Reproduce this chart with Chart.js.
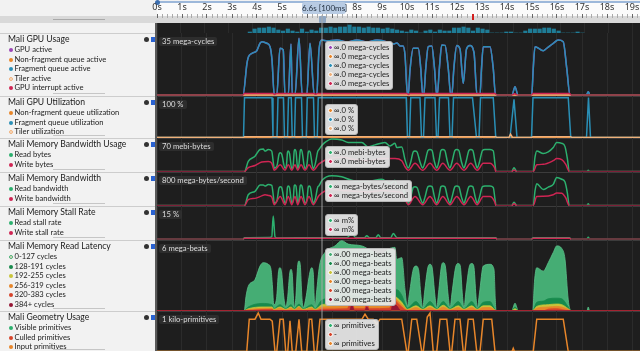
<!DOCTYPE html>
<html>
<head>
<meta charset="utf-8">
<script src="https://cdn.jsdelivr.net/npm/chart.js@4.4.0/dist/chart.umd.min.js"></script>
<style>
  html, body { margin: 0; padding: 0; width: 640px; height: 351px; overflow: hidden; background: #f0f0f0; }
  body { font-family: Lato, "Noto Sans", sans-serif; }
  #app { position: relative; width: 640px; height: 351px; }
  .abs { position: absolute; }
  canvas { position: absolute; display: block; }
  .title { font-size: 8.6px; color: #1b1b1b; white-space: nowrap; line-height: 11px; }
  .item { font-size: 7.6px; color: #222; white-space: nowrap; line-height: 9px; }
  .dot { display: inline-block; width: 4px; height: 4px; border-radius: 50%; margin-right: 1.5px; vertical-align: 0px; box-sizing: border-box; }
  .unit { padding: 0 3px; font-size: 7.7px; line-height: 9px; color: #ddd; background: rgba(48,48,48,0.85); border-radius: 2px; white-space: nowrap; }
  .tip { padding: 1px 3px 1px 2px; background: rgba(232,232,232,0.93); border: 1px solid #b8b8b8; border-radius: 3px; }
  .tip div { font-size: 7.7px; line-height: 9px; color: #222; white-space: nowrap; }
  .tip .dot { width: 5px; height: 5px; border: 1px solid #fff; margin-right: 1px; }
</style>
</head>
<body>
<div id="app"></div>
<script>
// timeline: 0s sits at x=157, 25px per second, right edge ~19.3s
const X_MAX = 19.32;
const rulerLabels = ['0s', '1s', '2s', '3s', '4s', '5s', '6s', '7s', '8s', '9s', '10s',
  '11s', '12s', '13s', '14s', '15s', '16s', '17s', '18s', '19s'];

// activity overview strip under the ruler, one bar per 0.2s from 3.4s
const overviewStart = 3.4;
const overviewStep = 0.2;
const overviewBars = [1, 4, 5, 5, 6, 5, 3, 2, 4, 2, 1, 4, 1, 3, 2, 5, 5, 6, 5, 6, 6, 8, 6, 6, 5, 6, 5, 5,
  4, 5, 4, 3, 2, 1, 3, 2, 0, 2, 3, 1, 3, 2, 2, 5, 5, 6, 5, 2, 5, 4, 3, 0, 0, 0, 1, 1, 0, 0, 2, 4, 4, 4,
  5, 5, 4, 2, 0, 0, 0, 1, 0];

// ---- Mali GPU Usage (mega-cycles), [seconds, value] ----
const fragActive = [[0, 0], [3.44, 0], [3.6, 18], [3.66, 21.6], [3.8, 23.5], [3.99, 25], [4.12, 29.2], [4.21, 30.1],
  [4.39, 29.2], [4.52, 27.3], [4.6, 19.8], [4.69, 0], [4.79, 0], [4.92, 26.4], [5.05, 25.4], [5.12, 0],
  [5.25, 0], [5.36, 28.8], [5.41, 0], [5.52, 0], [5.68, 32], [5.81, 0], [5.99, 0], [6.12, 29.2], [6.29, 0],
  [6.39, 0], [6.48, 25.4], [6.6, 31], [6.8, 30.5], [7.2, 31], [7.6, 30], [8.0, 31], [8.4, 30], [8.8, 31],
  [9.2, 30], [9.32, 29.2], [9.48, 28.8], [9.6, 29.4], [9.72, 27.7], [9.84, 27.7], [9.92, 22.6], [10.02, 0],
  [10.05, 0], [10.12, 14], [10.25, 26.4], [10.45, 26.4], [10.55, 15], [10.63, 0],
  [10.67, 0], [10.75, 15], [10.85, 27.3], [10.99, 27.7], [11.1, 15], [11.19, 0],
  [11.21, 0], [11.3, 16], [11.39, 28.2], [11.52, 28], [11.65, 15], [11.75, 0],
  [11.79, 0], [11.88, 16], [11.99, 27.9], [12.12, 26], [12.25, 6.6], [12.38, 26], [12.52, 27.9], [12.68, 24], [12.8, 0],
  [12.92, 0], [12.98, 15], [13.05, 27.3], [13.32, 27.3], [13.45, 15], [13.54, 0],
  [14.2, 0], [14.32, 4.7], [14.44, 0],
  [14.99, 0], [15.05, 15], [15.12, 27.3], [15.45, 25], [15.59, 26.4], [15.85, 29.2], [16.05, 31], [16.25, 30.1],
  [16.39, 15], [16.52, 0], [17.18, 0], [17.25, 1.9], [17.32, 0], [19.32, 0]];
const gpuActive = fragActive; // the purple trace lies exactly under the blue one
const nonFragActive = [[0, 0], [19.32, 0]];
const tilerActive = [[0, 0], [19.32, 0]];
const irqActive = [[0, 0], [3.44, 0], [3.5, 0.9], [4.64, 0.9], [4.7, 0.3], [4.8, 0.9], [6.28, 0.9], [6.34, 0.4],
  [6.42, 0.9], [10.0, 0.9], [10.06, 0.3], [10.12, 0.9], [13.52, 0.9], [13.58, 0], [14.2, 0], [14.3, 0.7],
  [14.42, 0], [14.98, 0], [15.04, 0.9], [16.5, 0.9], [16.56, 0], [19.32, 0]];

// ---- Mali GPU Utilization (%) ----
const nonFragUtil = [[0, 0], [19.32, 0]];
const fragUtil = [[0, 0], [3.46, 0], [3.5, 96], [4.6, 96], [4.64, 0], [4.8, 0], [4.84, 96], [5.06, 96], [5.1, 0],
  [5.22, 0], [5.26, 96], [5.37, 96], [5.41, 0], [5.5, 0], [5.54, 96], [5.78, 96], [5.82, 0], [5.97, 0], [6.01, 96],
  [6.26, 96], [6.3, 0], [6.41, 0], [6.45, 96], [9.97, 96], [10.02, 0], [10.1, 0], [10.15, 96], [10.52, 96],
  [10.58, 0], [10.66, 0], [10.72, 96], [11.12, 96], [11.18, 0], [11.24, 0], [11.3, 96], [11.66, 96], [11.72, 0],
  [11.8, 0], [11.86, 96], [12.62, 96], [12.78, 0], [12.88, 0], [12.94, 96], [13.45, 96], [13.55, 0], [14.12, 0],
  [14.28, 92], [14.4, 0], [14.98, 0], [15.04, 96], [16.45, 96], [16.55, 0], [17.18, 0], [17.26, 96], [17.34, 0], [19.32, 0]];
const tilerUtil = [[0, 0], [3.46, 0], [3.5, 2], [13.55, 2], [13.6, 0], [14.08, 0], [14.14, 8], [14.22, 0],
  [14.98, 0], [15.04, 2], [16.55, 2], [16.6, 0], [19.32, 0]];

// ---- Mali Memory Bandwidth Usage (mebi-bytes) ----
const readBytes = [[0, 0], [3.5, 0], [3.65, 21], [3.92, 32], [4.12, 46], [4.25, 47], [4.32, 42.6], [4.45, 46],
  [4.59, 42.6], [4.65, 20], [4.69, 7], [4.8, 12], [4.88, 36], [4.93, 39], [4.99, 36], [5.12, 7],
  [5.18, 14], [5.22, 40], [5.25, 43], [5.3, 38], [5.39, 5.7], [5.45, 14], [5.49, 43], [5.52, 46], [5.56, 42], [5.63, 5.7],
  [5.68, 16], [5.73, 43], [5.76, 46], [5.8, 42], [5.92, 5.7], [6.0, 16], [6.05, 40], [6.08, 43], [6.13, 40], [6.25, 5.7],
  [6.33, 16], [6.43, 42], [6.48, 46], [6.6, 55], [6.75, 62], [6.99, 67.8], [7.39, 65.7], [7.65, 60.7], [8.19, 60.7],
  [8.45, 51.3], [8.72, 55.6], [9.12, 60.7], [9.32, 53.4], [9.52, 58.9], [9.59, 50], [9.79, 51.3], [9.92, 24.8], [10.05, 7.2],
  [10.15, 20], [10.25, 41], [10.32, 43], [10.4, 41], [10.52, 20], [10.63, 7.2],
  [10.72, 20], [10.84, 44], [10.92, 46], [11.0, 44], [11.1, 20], [11.19, 7.2],
  [11.27, 20], [11.36, 44], [11.43, 46], [11.51, 44], [11.62, 20], [11.72, 7.2],
  [11.8, 20], [11.92, 44], [11.99, 46], [12.07, 44], [12.18, 20], [12.28, 7.2],
  [12.36, 20], [12.48, 44], [12.55, 46], [12.63, 44], [12.73, 20], [12.81, 7.2],
  [12.9, 20], [13.02, 44], [13.12, 46], [13.32, 46], [13.45, 43], [13.52, 15], [13.56, 0],
  [14.19, 0], [14.28, 8], [14.39, 0], [15.05, 0], [15.12, 30], [15.19, 43], [15.45, 37.4], [15.65, 41], [15.85, 50],
  [15.99, 60.7], [16.19, 58.9], [16.32, 52], [16.42, 25], [16.49, 0], [17.2, 0], [17.25, 2.5], [17.3, 0], [19.32, 0]];
const writeBytes = [[0, 0], [3.5, 0], [3.65, 8.2], [3.92, 12.6], [4.19, 19.7], [4.45, 21], [4.59, 17.2], [4.69, 2.5],
  [4.93, 14], [5.12, 2.5], [5.25, 14], [5.39, 2.5], [5.52, 14], [5.63, 2.5], [5.76, 14], [5.92, 2.5], [6.08, 14],
  [6.25, 2.5], [6.48, 16], [6.99, 28.4], [7.39, 29.9], [7.92, 24.8], [8.45, 22.6], [8.99, 27], [9.32, 27], [9.52, 27],
  [9.79, 22.6], [9.92, 10], [10.05, 2.5], [10.32, 17], [10.63, 2.5], [10.92, 17], [11.19, 2.5], [11.43, 17], [11.72, 2.5],
  [11.99, 17], [12.28, 2.5], [12.55, 17], [12.81, 2.5], [13.05, 17], [13.32, 17], [13.5, 8], [13.56, 0],
  [14.19, 0], [14.28, 3], [14.39, 0], [15.05, 0], [15.19, 14], [15.45, 15], [15.85, 22.6], [15.99, 27], [16.19, 25],
  [16.35, 15], [16.49, 0], [19.32, 0]];

// ---- Mali Memory Bandwidth (mega-bytes/second) ----
const readBw = [[0, 0], [3.5, 0], [3.65, 258], [3.92, 340], [4.12, 487], [4.25, 490], [4.32, 463], [4.45, 500],
  [4.59, 480], [4.65, 250], [4.69, 54], [4.8, 120], [4.88, 420], [4.93, 445], [4.99, 420], [5.12, 54],
  [5.18, 140], [5.22, 440], [5.25, 463], [5.3, 430], [5.39, 54], [5.45, 140], [5.49, 470], [5.52, 487], [5.56, 460], [5.63, 54],
  [5.68, 150], [5.73, 470], [5.76, 487], [5.8, 460], [5.92, 54], [6.0, 150], [6.05, 440], [6.08, 463], [6.13, 440], [6.25, 54],
  [6.33, 150], [6.43, 440], [6.48, 470], [6.6, 600], [6.99, 709], [7.39, 684], [7.92, 585], [8.45, 585], [8.99, 627],
  [9.32, 521], [9.52, 602], [9.59, 463], [9.79, 463], [9.92, 250], [10.05, 54],
  [10.15, 200], [10.25, 430], [10.32, 445], [10.4, 430], [10.52, 200], [10.63, 54],
  [10.72, 200], [10.84, 450], [10.92, 463], [11.0, 450], [11.1, 200], [11.19, 54],
  [11.27, 200], [11.36, 450], [11.43, 463], [11.51, 450], [11.62, 200], [11.72, 54],
  [11.8, 200], [11.92, 450], [11.99, 463], [12.07, 450], [12.18, 200], [12.28, 54],
  [12.36, 200], [12.48, 450], [12.55, 463], [12.63, 450], [12.73, 200], [12.81, 54],
  [12.9, 200], [13.02, 450], [13.12, 463], [13.32, 463], [13.45, 430], [13.52, 150], [13.56, 0],
  [14.19, 0], [14.28, 80], [14.39, 0], [15.05, 0], [15.12, 350], [15.19, 521], [15.45, 381], [15.65, 440], [15.85, 504],
  [15.99, 669], [16.19, 627], [16.32, 560], [16.42, 280], [16.49, 0], [17.2, 0], [17.25, 40], [17.3, 0], [19.32, 0]];
const writeBw = [[0, 0], [3.5, 0], [3.65, 140], [3.92, 170], [4.19, 230], [4.32, 258], [4.45, 241], [4.59, 200], [4.69, 20],
  [4.93, 217], [5.12, 20], [5.25, 217], [5.39, 20], [5.52, 217], [5.63, 20], [5.76, 217], [5.92, 20], [6.08, 217],
  [6.25, 20], [6.48, 240], [6.99, 381], [7.39, 360], [7.92, 340], [8.45, 320], [8.99, 360], [9.32, 340], [9.79, 300],
  [9.92, 150], [10.05, 20], [10.32, 217], [10.63, 20], [10.92, 217], [11.19, 20], [11.43, 217], [11.72, 20],
  [11.99, 217], [12.28, 20], [12.55, 217], [12.81, 20], [13.05, 217], [13.32, 217], [13.5, 100], [13.56, 0],
  [14.19, 0], [14.28, 40], [14.39, 0], [15.05, 0], [15.19, 217], [15.45, 220], [15.85, 258], [15.99, 299], [16.19, 290],
  [16.35, 180], [16.49, 0], [19.32, 0]];

// ---- Mali Memory Stall Rate (%) ----
const readStall = [[0, 0], [3.45, 0], [3.5, 0.6], [4.5, 0.7], [4.59, 1], [4.65, 10.5], [4.72, 1], [4.8, 0.5],
  [6.4, 0.6], [7.6, 0.6], [7.79, 2.7], [7.95, 0.6], [8.3, 0.6], [8.39, 1.5], [8.5, 0.6], [8.75, 0.6], [8.85, 1.9],
  [8.95, 0.6], [9.35, 0.6], [9.45, 2.5], [9.6, 0.6], [13.55, 0.6], [13.6, 0], [14.98, 0], [15.05, 0.6], [16.5, 0.6],
  [16.56, 0], [17.2, 0], [17.25, 0.8], [17.3, 0], [19.32, 0]];
const writeStall = [[0, 0], [3.45, 0], [3.5, 0.3], [13.55, 0.3], [13.6, 0], [14.98, 0], [15.05, 0.3], [16.5, 0.3],
  [16.56, 0], [19.32, 0]];

// ---- Mali Memory Read Latency (mega-beats), top edge of each band ----
const lat0 = [[0, 0], [3.49, 0], [3.56, 1.2], [3.65, 2.05], [3.92, 2.63], [4.12, 3.78], [4.25, 4.07], [4.45, 3.93],
  [4.56, 3.5], [4.62, 2], [4.67, 0.5], [4.78, 1], [4.86, 3.3], [4.92, 3.64], [4.98, 3.3], [5.08, 1], [5.15, 0.33],
  [5.22, 1], [5.31, 3.2], [5.36, 3.5], [5.41, 3.1], [5.46, 1], [5.49, 0.25], [5.55, 1], [5.63, 3.9], [5.68, 4.21],
  [5.73, 3.9], [5.8, 1], [5.85, 0.25], [5.95, 1], [6.12, 3.3], [6.19, 3.64], [6.25, 3.2], [6.29, 1], [6.32, 0.25],
  [6.38, 1.5], [6.5, 3.8], [6.72, 4.94], [7.12, 5.5], [7.39, 5.94], [7.65, 5.65], [8.19, 5.5], [8.59, 5.07],
  [8.99, 4.79], [9.25, 5.22], [9.52, 5.37], [9.59, 4.36], [9.79, 4.5], [9.92, 1.77], [10.01, 0.33],
  [10.1, 1.5], [10.25, 3.5], [10.36, 3.78], [10.46, 3.5], [10.56, 1.2], [10.63, 0.2],
  [10.7, 1.5], [10.84, 3.7], [10.92, 3.93], [11.0, 3.7], [11.12, 1.2], [11.19, 0.2],
  [11.26, 1.5], [11.38, 3.8], [11.45, 4.07], [11.53, 3.8], [11.65, 1.2], [11.72, 0.2],
  [11.8, 1.5], [11.96, 3.8], [12.05, 4.0], [12.13, 3.8], [12.22, 1.2], [12.28, 0.2],
  [12.35, 1.5], [12.5, 3.8], [12.59, 4.0], [12.67, 3.8], [12.76, 1.2], [12.81, 0.2],
  [12.9, 1.5], [13.05, 3.78], [13.32, 3.93], [13.48, 3.5], [13.53, 1], [13.56, 0],
  [14.19, 0], [14.32, 0.62], [14.45, 0], [15.03, 0], [15.1, 2.5], [15.19, 3.64], [15.45, 3.35], [15.65, 4.07],
  [15.85, 4.94], [15.99, 5.5], [16.19, 5.28], [16.32, 4.36], [16.45, 0.9], [16.55, 0], [17.2, 0], [17.25, 0.3],
  [17.3, 0], [19.32, 0]];
const lat128 = [[0, 0], [3.49, 0], [3.65, 0.3], [4.2, 0.6], [4.6, 0.5], [4.67, 0.15], [4.92, 0.5], [5.15, 0.15],
  [5.36, 0.5], [5.49, 0.15], [5.68, 0.55], [5.85, 0.15], [6.19, 0.5], [6.32, 0.15], [6.6, 0.9], [7.2, 1.1], [7.79, 1.3],
  [8.2, 1.1], [8.6, 1.2], [9.0, 1.1], [9.45, 1.6], [9.59, 1.77], [9.79, 1.3], [9.92, 0.6], [10.01, 0.2], [10.36, 0.76],
  [10.63, 0.15], [10.92, 0.76], [11.19, 0.15], [11.45, 0.76], [11.72, 0.15], [12.05, 0.76], [12.28, 0.15],
  [12.59, 0.76], [12.81, 0.15], [13.05, 0.7], [13.32, 0.76], [13.56, 0], [14.19, 0], [14.32, 0.3], [14.45, 0],
  [15.03, 0], [15.19, 0.7], [15.45, 0.8], [15.65, 1.0], [15.99, 1.05], [16.19, 1.0], [16.45, 0.3], [16.55, 0], [19.32, 0]];
const lat192 = [[0, 0], [3.49, 0], [3.65, 0.15], [4.2, 0.3], [4.6, 0.3], [4.67, 0.1], [4.92, 0.3], [5.15, 0.1],
  [5.36, 0.3], [5.49, 0.1], [5.68, 0.35], [5.85, 0.1], [6.19, 0.3], [6.32, 0.1], [6.6, 0.5], [7.2, 0.6], [7.79, 1.0],
  [8.0, 0.6], [8.39, 0.8], [8.6, 0.6], [9.2, 0.6], [9.45, 1.3], [9.59, 1.1], [9.79, 0.7], [9.92, 0.3], [10.01, 0.1],
  [10.36, 0.4], [10.63, 0.1], [10.92, 0.4], [11.19, 0.1], [11.45, 0.45], [11.72, 0.1], [12.05, 0.4], [12.28, 0.1],
  [12.59, 0.4], [12.81, 0.1], [13.05, 0.4], [13.32, 0.4], [13.56, 0], [14.19, 0], [14.32, 0.15], [14.45, 0],
  [15.03, 0], [15.19, 0.35], [15.65, 0.5], [15.99, 0.55], [16.19, 0.5], [16.45, 0.15], [16.55, 0], [19.32, 0]];
const lat256 = [[0, 0], [3.49, 0], [3.65, 0.08], [4.2, 0.18], [4.6, 0.2], [4.67, 0.05], [4.92, 0.2], [5.15, 0.05],
  [5.36, 0.2], [5.49, 0.05], [5.68, 0.25], [5.85, 0.05], [6.19, 0.2], [6.32, 0.05], [6.6, 0.3], [7.2, 0.35],
  [7.79, 0.9], [7.9, 0.35], [8.39, 0.7], [8.5, 0.35], [9.2, 0.4], [9.45, 1.2], [9.59, 0.9], [9.79, 0.5], [9.92, 0.2],
  [10.01, 0.05], [10.36, 0.25], [10.63, 0.05], [10.92, 0.25], [11.19, 0.05], [11.45, 0.3], [11.72, 0.05],
  [12.05, 0.25], [12.28, 0.05], [12.59, 0.25], [12.81, 0.05], [13.05, 0.25], [13.32, 0.25], [13.56, 0],
  [15.03, 0], [15.19, 0.2], [15.65, 0.3], [15.99, 0.35], [16.19, 0.3], [16.45, 0.1], [16.55, 0], [19.32, 0]];
const lat320 = [[0, 0], [3.49, 0], [4.2, 0.08], [4.6, 0.1], [4.67, 0], [6.4, 0], [6.6, 0.12], [7.6, 0.15], [7.79, 0.8],
  [7.9, 0.15], [8.3, 0.15], [8.39, 0.55], [8.5, 0.15], [9.3, 0.2], [9.45, 1.0], [9.59, 0.7], [9.79, 0.3], [10.01, 0],
  [15.5, 0], [15.65, 0.12], [15.99, 0.15], [16.45, 0], [19.32, 0]];
const lat384 = [[0, 0], [7.7, 0], [7.79, 0.45], [7.9, 0], [8.3, 0], [8.39, 0.3], [8.5, 0], [9.35, 0], [9.45, 0.6],
  [9.59, 0.4], [9.75, 0], [19.32, 0]];

// ---- Mali Geometry Usage (primitives) ----
const visiblePrims = [[0, 0], [19.32, 0]];
const culledPrims = [[0, 0], [19.32, 0]];
const inputPrims = [[0, 0], [3.59, 0], [3.69, 797], [3.92, 797], [4.05, 949], [4.16, 797], [4.52, 797], [4.61, 750],
  [4.72, 0], [4.79, 0], [4.92, 797], [5.05, 797], [5.15, 0], [5.23, 0], [5.32, 760], [5.41, 0], [5.55, 0], [5.68, 797],
  [5.79, 0], [5.99, 0], [6.09, 797], [6.19, 797], [6.29, 0], [6.39, 0], [6.52, 797], [8.2, 797], [8.32, 924],
  [8.45, 797], [8.65, 797], [8.79, 671], [8.92, 797], [9.79, 797], [9.99, 0], [10.05, 0], [10.19, 797], [10.39, 797],
  [10.59, 0], [10.65, 0], [10.81, 850], [10.92, 949], [11.05, 0], [11.19, 0], [11.32, 797], [11.59, 797], [11.72, 0],
  [11.79, 0], [11.92, 797], [12.12, 797], [12.25, 0], [12.32, 0], [12.45, 797], [12.65, 797], [12.79, 0],
  [12.92, 0], [13.05, 797], [13.39, 797], [13.52, 0], [14.2, 0], [14.25, 80], [14.3, 0], [15.05, 0], [15.19, 797],
  [16.25, 797], [16.45, 0], [19.32, 0]];

const C = {
  purple: '#9b45b6', orange: '#e8862a', teal: '#2a8fb6', tan: '#f0b07a', crimson: '#cf2553', green: '#2cb06e',
  lat0: '#45ad74', lat128: '#178a4c', lat192: '#c8c43a', lat256: '#e6862a', lat320: '#d6442a', lat384: '#951634',
};
const IDLE_RED = '#7c2038'; // red traces look darker where they sit on zero

// layout of the seven tracks: top edge, height, baseline offset
const tracks = [
  { title: 'Mali GPU Usage', top: 33, h: 63, base: 62, max: 35, unit: '35 mega-cycles',
    series: [['GPU active', C.purple, gpuActive], ['Non-fragment queue active', C.orange, nonFragActive],
      ['Fragment queue active', C.teal, fragActive], ['Tiler active', C.tan, tilerActive],
      ['GPU interrupt active', C.crimson, irqActive]],
    tip: ['∞.0 mega-cycles', '∞.0 mega-cycles', '∞.0 mega-cycles', '∞.0 mega-cycles', '∞.0 mega-cycles'] },
  { title: 'Mali GPU Utilization', top: 96, h: 42, base: 41.5, max: 100, unit: '100 %', straight: true,
    series: [['Non-fragment queue utilization', C.orange, nonFragUtil], ['Fragment queue utilization', C.teal, fragUtil],
      ['Tiler utilization', C.tan, tilerUtil]],
    tip: ['∞.0 %', '∞.0 %', '∞.0 %'] },
  { title: 'Mali Memory Bandwidth Usage', top: 138, h: 34, base: 33.5, max: 70, unit: '70 mebi-bytes',
    series: [['Read bytes', C.green, readBytes], ['Write bytes', C.crimson, writeBytes]],
    tip: ['∞.0 mebi-bytes', '∞.0 mebi-bytes'] },
  { title: 'Mali Memory Bandwidth', top: 172, h: 34, base: 33.5, max: 800, unit: '800 mega-bytes/second',
    series: [['Read bandwidth', C.green, readBw], ['Write bandwidth', C.crimson, writeBw]],
    tip: ['∞ mega-bytes/second', '∞ mega-bytes/second'] },
  { title: 'Mali Memory Stall Rate', top: 206, h: 34, base: 33, max: 15, unit: '15 %',
    series: [['Read stall rate', C.green, readStall], ['Write stall rate', C.crimson, writeStall]],
    tip: ['∞ m%', '∞ m%'] },
  { title: 'Mali Memory Read Latency', top: 240, h: 71, base: 70.5, max: 6, unit: '6 mega-beats', area: true,
    series: [['0-127 cycles', C.lat0, lat0], ['128-191 cycles', C.lat128, lat128], ['192-255 cycles', C.lat192, lat192],
      ['256-319 cycles', C.lat256, lat256], ['320-383 cycles', C.lat320, lat320], ['384+ cycles', C.lat384, lat384]],
    tip: ['∞.00 mega-beats', '∞.00 mega-beats', '∞.00 mega-beats', '∞.00 mega-beats', '∞.00 mega-beats', '∞.00 mega-beats'] },
  { title: 'Mali Geometry Usage', top: 311, h: 41, base: 40.5, max: 1000, unit: '1 kilo-primitives', straight: true,
    series: [['Visible primitives', C.green, visiblePrims], ['Culled primitives', C.lat320, culledPrims],
      ['Input primitives', C.orange, inputPrims]],
    tip: ['∞ primitives', '-', '∞ primitives'] },
];

Chart.defaults.animation = false;
Chart.defaults.events = [];
Chart.defaults.plugins.legend.display = false;
Chart.defaults.plugins.tooltip.enabled = false;
Chart.defaults.font.family = 'Lato, "Noto Sans", sans-serif';

const app = document.getElementById('app');
const pts = (a) => a.map(([x, y]) => ({ x, y }));

function box(css, html, cls) {
  const d = document.createElement('div');
  d.className = 'abs' + (cls ? ' ' + cls : '');
  d.style.cssText = css;
  if (html) d.innerHTML = html;
  app.appendChild(d);
  return d;
}
function canvasAt(left, top, w, h) {
  const c = document.createElement('canvas');
  c.width = w; c.height = h;
  c.style.left = left + 'px'; c.style.top = top + 'px';
  app.appendChild(c);
  return c;
}
const timeAxis = (gridColor) => ({
  type: 'linear', min: 0, max: X_MAX,
  ticks: { display: false, stepSize: 1, includeBounds: false },
  grid: { color: gridColor, drawTicks: false },
  border: { display: false },
});
const isWhole = (v) => Math.abs(v - Math.round(v)) < 1e-6;

// --- frame ---
box('left:0;top:0;width:640px;height:16px;background:#f2f2f2');
box('left:157px;top:3px;width:483px;height:13px;background:#fbfbfb');
box('left:0;top:16px;width:640px;height:7px;background:#d9d9d9');
box('left:53px;top:19px;width:52px;height:1px;background:#a9a9a9');
box('left:157px;top:1px;width:483px;height:2px;background:#9db8da');
box('left:155px;top:0px;width:5px;height:5px;border-radius:50%;background:#3d6fb0');

// --- ruler: labels on top, tick marks underneath (the empty plot area below stays transparent) ---
new Chart(canvasAt(145, 3, 495, 40), {
  type: 'line',
  data: { datasets: [] },
  options: {
    responsive: false,
    layout: { padding: { left: 12, right: 0, top: 0, bottom: 0 } },
    scales: {
      x: {
        type: 'linear', position: 'top', min: 0, max: X_MAX,
        afterFit: (s) => { s.height = 15; },
        ticks: {
          stepSize: 0.2, autoSkip: false, maxRotation: 0, includeBounds: false, padding: 1,
          color: '#333', font: { size: 9, family: '"Noto Sans", sans-serif' },
          callback: (v) => (isWhole(v) ? rulerLabels[Math.round(v)] : ''),
        },
        grid: {
          drawOnChartArea: false, drawTicks: true, tickLength: 4,
          tickColor: (ctx) => (ctx.tick && isWhole(ctx.tick.value) ? '#666' : '#aaa'),
        },
        border: { display: false },
      },
      y: { display: false },
    },
  },
});
box('left:157px;top:23px;width:483px;height:328px;background:#1e1e1e');
box('left:0;top:23px;width:155px;height:328px;background:#f2f2f2');
box('left:155px;top:23px;width:2px;height:328px;background:#5a5a5a');
box('left:302px;top:2px;width:44px;height:12px;background:#b8cbe3;border-radius:3px;font-size:8px;line-height:12px;color:#1d2a3a;text-align:center;white-space:nowrap', '6.6s [100ms]');
box('left:319px;top:16px;width:7px;height:7px;background:#8fa6c2;border-radius:1px');
box('left:472px;top:14px;width:2px;height:6px;background:#d21e1e');

// --- overview strip ---
new Chart(canvasAt(157, 23, 483, 10), {
  type: 'bar',
  data: { datasets: [{ data: overviewBars.map((v, i) => ({ x: overviewStart + i * overviewStep, y: v })),
    backgroundColor: '#1f7c96', barThickness: 3.5 }] },
  options: { responsive: false, scales: { x: timeAxis('#2a2a2a'), y: { display: false, min: 0, max: 10 } } },
});

// --- tracks ---
tracks.forEach((t) => {
  // left legend panel
  box(`left:0;top:${t.top}px;width:155px;height:1px;background:#cdcdcd`);
  box(`left:53px;top:${t.top + t.h - 3}px;width:52px;height:1px;background:#c6c6c6`);
  box(`left:8px;top:${t.top + 1}px`, '', 'title').textContent = t.title;
  box(`left:144px;top:${t.top + 4}px;width:5px;height:5px;border-radius:50%;background:#333`);
  box(`left:151px;top:${t.top + 4}px;width:4px;height:5px;background:#2a62d1`);
  t.series.forEach(([name, color], i) => {
    const hollow = color === C.tan || color === C.lat0;
    box(`left:9px;top:${t.top + 12 + i * 9.6}px`,
      `<span class="dot" style="background:${hollow ? '#f7e0c8' : color};${hollow ? 'border:1px solid ' + color : ''}"></span>${name}`,
      'item');
  });

  // chart
  const yMin = -t.max * (t.h - t.base) / t.base;
  const datasets = t.series.slice().reverse().map(([name, color, data]) => ({
    label: name, data: pts(data), borderColor: t.area && color === C.lat0 ? '#5cc48b' : color,
    borderWidth: t.area ? 0.8 : 1.5, pointRadius: 0,
    cubicInterpolationMode: t.straight ? 'default' : 'monotone', tension: 0,
    fill: t.area ? 'origin' : false, backgroundColor: color,
    segment: color === C.crimson
      ? { borderColor: (ctx) => (ctx.p0.parsed.y === 0 && ctx.p1.parsed.y === 0 ? IDLE_RED : undefined) }
      : undefined,
  }));
  new Chart(canvasAt(157, t.top, 483, t.h), {
    type: 'line',
    data: { datasets },
    options: {
      responsive: false,
      scales: { x: timeAxis('#2b2b2b'), y: { display: false, min: yMin, max: t.max } },
    },
  });
  box(`left:157px;top:${t.top + t.h - 0.5}px;width:483px;height:1px;background:rgba(90,90,90,0.5)`);
  box(`left:159px;top:${t.top + 4}px`, '', 'unit').textContent = t.unit;
});

// cursor line and per-track readouts
box('left:321px;top:15px;width:2px;height:336px;background:rgba(170,170,170,0.45)');
tracks.forEach((t) => {
  box(`left:325px;top:${t.top + 8}px`, t.series.map(([, color], i) =>
    `<div><span class="dot" style="background:${color}"></span>${t.tip[i]}</div>`).join(''), 'tip');
});
</script>
</body>
</html>
